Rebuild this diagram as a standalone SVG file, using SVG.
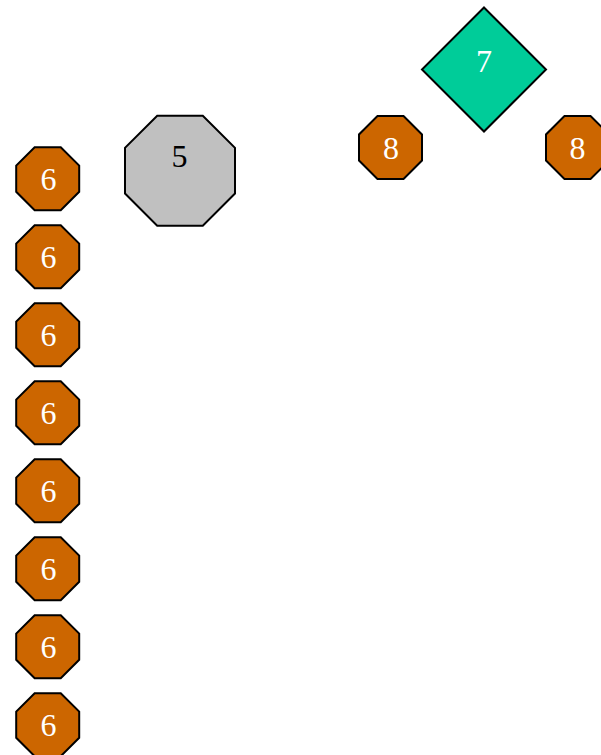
<svg xmlns="http://www.w3.org/2000/svg" width="601" height="755" viewBox="0 0 601 755">
<style>
.shape{stroke:#000;stroke-width:2}
.or{fill:#CC6600}
.gr{fill:#C0C0C0}
.gn{fill:#00CC99}
text{font-family:"Liberation Serif","Times New Roman",serif;font-size:32px;text-anchor:middle}
.w{fill:#fff}
.b{fill:#000}
</style>
<defs>
<polygon id="oct-s" points="-13.05,-31.5 13.05,-31.5 31.5,-13.05 31.5,13.05 13.05,31.5 -13.05,31.5 -31.5,13.05 -31.5,-13.05"/>
<polygon id="oct-l" points="-22.8,-55 22.8,-55 55,-22.8 55,22.8 22.8,55 -22.8,55 -55,22.8 -55,-22.8"/>
</defs>
<g id="connectors"></g>
<g id="n5"><use href="#oct-l" x="180" y="170.7" class="shape gr"/><text x="179.5" y="166.5" class="b">5</text></g>
<g id="n7"><polygon points="484,7.5 546,69.5 484,131.5 422,69.5" class="shape gn"/><text x="484" y="71.5" class="w">7</text></g>
<g id="n8a"><use href="#oct-s" x="390.5" y="147.5" class="shape or"/><text x="391" y="158.5" class="w">8</text></g>
<g id="n8b"><use href="#oct-s" x="577.5" y="147.5" class="shape or"/><text x="577.5" y="158.5" class="w">8</text></g>
<g id="n6a"><use href="#oct-s" x="47.7" y="178.7" class="shape or"/><text x="48.5" y="189.5" class="w">6</text></g>
<g id="n6b"><use href="#oct-s" x="47.7" y="256.7" class="shape or"/><text x="48.5" y="267.5" class="w">6</text></g>
<g id="n6c"><use href="#oct-s" x="47.7" y="334.7" class="shape or"/><text x="48.5" y="345.5" class="w">6</text></g>
<g id="n6d"><use href="#oct-s" x="47.7" y="412.7" class="shape or"/><text x="48.5" y="423.5" class="w">6</text></g>
<g id="n6e"><use href="#oct-s" x="47.7" y="490.7" class="shape or"/><text x="48.5" y="501.5" class="w">6</text></g>
<g id="n6f"><use href="#oct-s" x="47.7" y="568.7" class="shape or"/><text x="48.5" y="579.5" class="w">6</text></g>
<g id="n6g"><use href="#oct-s" x="47.7" y="646.7" class="shape or"/><text x="48.5" y="657.5" class="w">6</text></g>
<g id="n6h"><use href="#oct-s" x="47.7" y="724.7" class="shape or"/><text x="48.5" y="735.5" class="w">6</text></g>
</svg>
